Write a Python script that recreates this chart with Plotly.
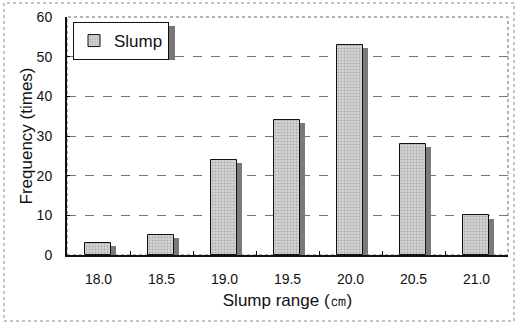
import plotly.graph_objects as go

categories = ["18.0", "18.5", "19.0", "19.5", "20.0", "20.5", "21.0"]
frequency = [3, 5, 24, 34, 53, 28, 10]
shadow_drop = 0.8
shadow_vals = [v - shadow_drop for v in frequency]

L, R, T, B = 67, 8, 17, 69
W, H = 516, 324
pw, ph = W - L - R, H - T - B

fig = go.Figure()
fig.add_trace(go.Bar(
    x=categories, y=shadow_vals, offset=0.2, width=0.08,
    marker=dict(color="#7a7a7a", line=dict(width=0)),
    showlegend=False, hoverinfo="skip"))
fig.add_trace(go.Bar(
    x=categories, y=frequency, offset=-0.22, width=0.42, name="Slump",
    marker=dict(color="#d0d0d0", line=dict(color="#111", width=1),
                pattern=dict(shape=".", bgcolor="#d6d6d6", fgcolor="#808080",
                             size=3, solidity=0.35))))

# outer border
fig.add_shape(type="rect", xref="paper", yref="paper",
              x0=(4 - L) / pw, x1=(514 - L) / pw,
              y0=(H - B - 321) / ph, y1=(H - B - 3) / ph,
              line=dict(color="#888", width=1, dash="dot"))
# legend shadow
fig.add_shape(type="rect", xref="paper", yref="paper",
              x0=(77 - L) / pw, x1=(175 - L) / pw,
              y0=(H - B - 60) / ph, y1=(H - B - 26) / ph,
              line=dict(width=0), fillcolor="#777", layer="below")

fig.update_layout(
    width=W, height=H, margin=dict(l=L, r=R, t=T, b=B),
    paper_bgcolor="white", plot_bgcolor="white",
    barmode="overlay", bargap=0,
    font=dict(family="Liberation Sans", size=14, color="#111"),
    legend=dict(x=(73 - L) / pw, y=(H - B - 22) / ph, xanchor="left", yanchor="top",
                bordercolor="#111", borderwidth=1, bgcolor="white",
                font=dict(size=17), itemwidth=30, tracegroupgap=0),
    xaxis=dict(type="category", showline=True, linecolor="#111", linewidth=2,
               ticks="inside", tickson="boundaries", ticklen=4, tickcolor="#111",
               showgrid=False, mirror=False, ticklabelstandoff=10,
               title=dict(text="Slump range (㎝)", standoff=8)),
    yaxis=dict(range=[0, 60], dtick=10, showline=True, linecolor="#111", linewidth=2,
               ticks="inside", ticklen=3, tickcolor="#111",
               showgrid=True, gridcolor="#777", griddash="dash", gridwidth=1,
               zeroline=False, ticklabelstandoff=10,
               title=dict(text="Frequency (times)", standoff=0)),
)
# right/top plot frame (thin dashed)
fig.add_shape(type="rect", xref="paper", yref="paper", x0=0, x1=1, y0=0, y1=1,
              line=dict(color="#666", width=1, dash="dot"), layer="below")

fig.write_html("out.html")
